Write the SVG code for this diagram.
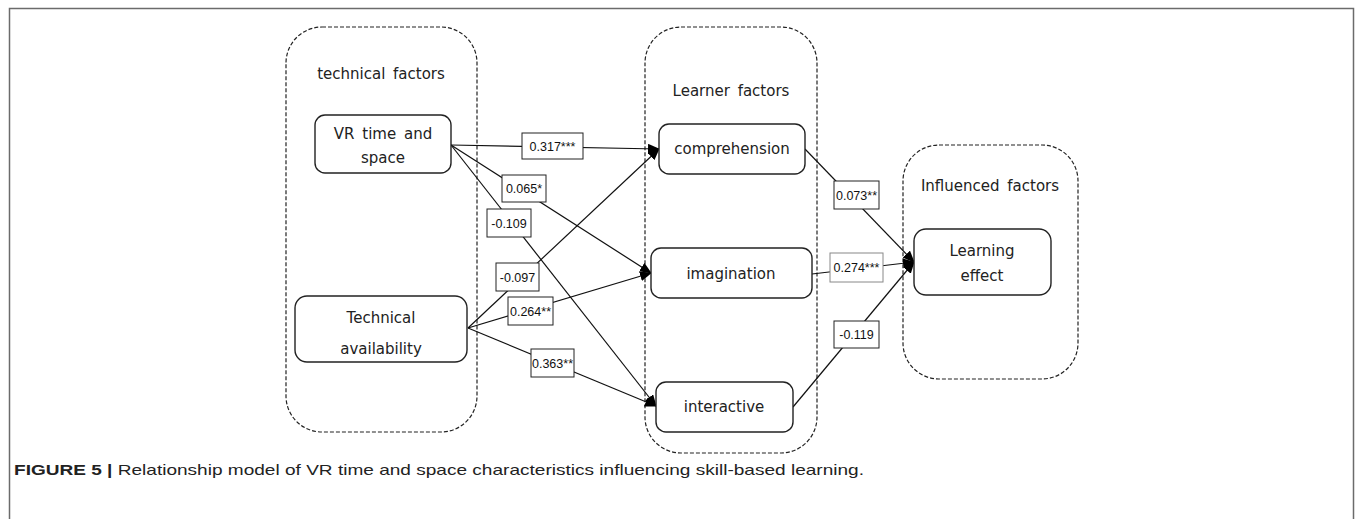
<svg xmlns="http://www.w3.org/2000/svg" width="1355" height="519" viewBox="0 0 1355 519">
<defs>
<marker id="arr" markerUnits="userSpaceOnUse" markerWidth="12" markerHeight="10" viewBox="0 0 12 10" refX="11" refY="5" orient="auto">
<path d="M0,0 L12,5 L0,10 Z" fill="#000"/>
</marker>
</defs>
<style>
.frame{fill:none;stroke:#6b6b6b;stroke-width:1.5}
.group{fill:none;stroke:#222;stroke-width:1.2;stroke-dasharray:4 2}
.node{fill:#fff;stroke:#222;stroke-width:1.4}
.nt{font-family:"DejaVu Sans",sans-serif;font-size:15px;fill:#222;text-anchor:middle;word-spacing:3px}
.edge{fill:none;stroke:#111;stroke-width:1.2;marker-end:url(#arr)}
.lb{fill:#fff;stroke:#222;stroke-width:1}
.lbg{fill:#fff;stroke:#888;stroke-width:1}
.lt{font-family:"Liberation Sans",sans-serif;font-size:12.5px;fill:#111;text-anchor:middle}
.cap{font-family:"Liberation Sans",sans-serif;font-size:15px;fill:#222}
</style>
<rect class="frame" x="9.5" y="8.5" width="1344" height="520"/>

<g id="group-technical">
<rect class="group" x="286" y="27" width="191" height="405" rx="36"/>
<text class="nt" x="381" y="79">technical factors</text>
</g>
<g id="group-learner">
<rect class="group" x="645" y="27" width="172" height="426" rx="36"/>
<text class="nt" x="731" y="96">Learner factors</text>
</g>
<g id="group-influenced">
<rect class="group" x="903" y="145" width="175" height="234" rx="36"/>
<text class="nt" x="990" y="191">Influenced factors</text>
</g>

<g id="connectors">
<line class="edge" x1="451" y1="145" x2="659" y2="149"/>
<line class="edge" x1="451" y1="145" x2="651" y2="273"/>
<line class="edge" x1="451" y1="145" x2="656" y2="406"/>
<line class="edge" x1="468" y1="328" x2="659" y2="149"/>
<line class="edge" x1="468" y1="328" x2="651" y2="273"/>
<line class="edge" x1="468" y1="328" x2="656" y2="406"/>
<line class="edge" x1="805" y1="149" x2="914" y2="262"/>
<line class="edge" x1="812" y1="274" x2="914" y2="262"/>
<line class="edge" x1="793" y1="407" x2="914" y2="262"/>
<g id="labels">
<rect class="lb" x="522" y="133" width="61" height="26"/><text class="lt" x="552.5" y="150.5">0.317***</text>
<rect class="lb" x="502" y="175" width="44" height="27"/><text class="lt" x="524" y="193">0.065*</text>
<rect class="lb" x="487" y="209" width="44" height="28"/><text class="lt" x="509" y="228">-0.109</text>
<rect class="lb" x="496" y="263" width="43" height="28"/><text class="lt" x="517.5" y="282">-0.097</text>
<rect class="lb" x="508" y="297" width="45" height="28"/><text class="lt" x="530.5" y="316">0.264**</text>
<rect class="lb" x="531" y="349" width="43" height="28"/><text class="lt" x="552.5" y="368">0.363**</text>
<rect class="lb" x="834" y="181" width="45" height="28"/><text class="lt" x="856.5" y="200">0.073**</text>
<rect class="lbg" x="830" y="253" width="53" height="29"/><text class="lt" x="856.5" y="272">0.274***</text>
<rect class="lb" x="834" y="321" width="45" height="27"/><text class="lt" x="856.5" y="339">-0.119</text>
</g>
</g>

<g id="node-vr">
<rect class="node" x="315" y="115" width="136" height="58" rx="10"/>
<text class="nt" x="383" y="139">VR time and</text>
<text class="nt" x="383" y="163">space</text>
</g>
<g id="node-tech">
<rect class="node" x="295" y="296" width="172" height="66" rx="12"/>
<text class="nt" x="381" y="323">Technical</text>
<text class="nt" x="381" y="354">availability</text>
</g>
<g id="node-comprehension">
<rect class="node" x="659" y="124" width="146" height="50" rx="10"/>
<text class="nt" x="732" y="154">comprehension</text>
</g>
<g id="node-imagination">
<rect class="node" x="651" y="248" width="161" height="50" rx="10"/>
<text class="nt" x="731" y="279">imagination</text>
</g>
<g id="node-interactive">
<rect class="node" x="656" y="382" width="137" height="50" rx="10"/>
<text class="nt" x="724" y="412">interactive</text>
</g>
<g id="node-learning">
<rect class="node" x="914" y="229" width="137" height="66" rx="12"/>
<text class="nt" x="982" y="256">Learning</text>
<text class="nt" x="982" y="281">effect</text>
</g>

<text class="cap" x="14" y="475" textLength="850" lengthAdjust="spacingAndGlyphs"><tspan font-weight="bold">FIGURE 5 |</tspan> Relationship model of VR time and space characteristics influencing skill-based learning.</text>
</svg>
